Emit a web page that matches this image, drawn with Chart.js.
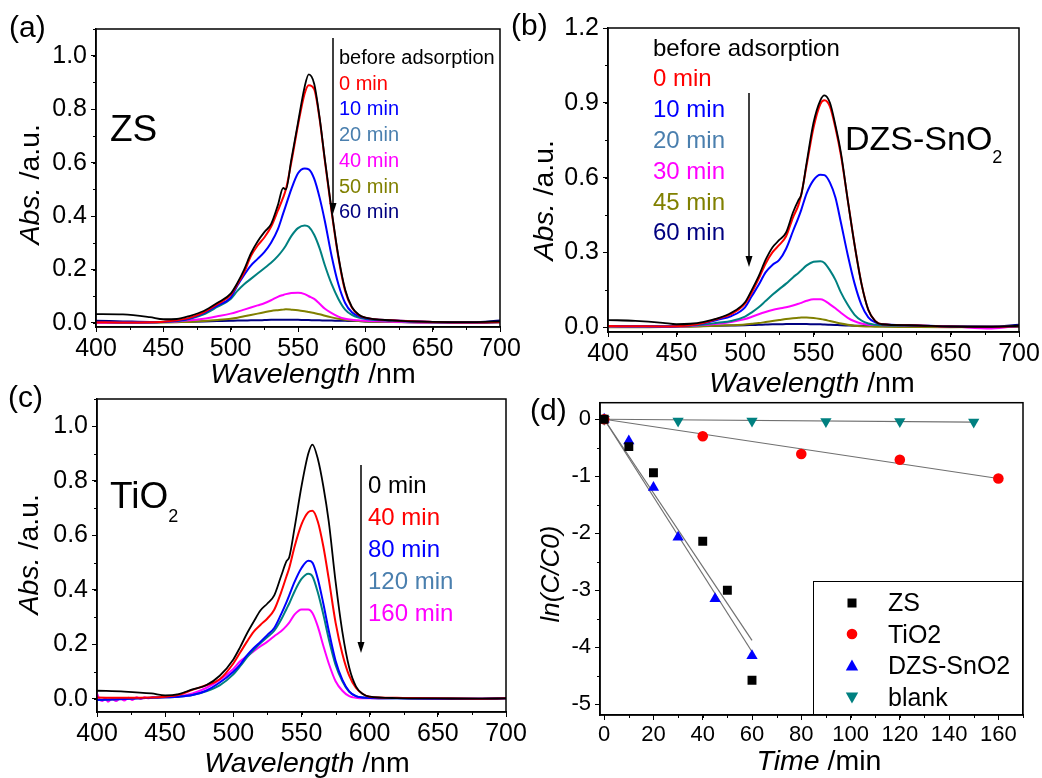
<!DOCTYPE html>
<html>
<head>
<meta charset="utf-8">
<script src="https://cdn.jsdelivr.net/npm/chart.js@4.4.0/dist/chart.umd.min.js"></script>
<style>
  body { margin: 0; background: #fff; }
  #fig { position: relative; width: 1042px; height: 778px; overflow: hidden;
         font-family: "Liberation Sans", Arial, sans-serif; color: #000; background: #fff; }
  #fig canvas { position: absolute; }
  .t { position: absolute; white-space: nowrap; }
  .panel { font-size: 30px; line-height: 30px; }
  .xt { width: 300px; text-align: center; font-size: 28.5px; line-height: 28.5px; }
  .yt { width: 200px; text-align: center; font-size: 28.5px; line-height: 28.5px; transform: rotate(-90deg); }
  .sub { font-size: 18px; }
  #legD { position: absolute; left: 813px; top: 581px; width: 210px; height: 134px;
          box-sizing: border-box; border: 1px solid #000; background: #fff; }
  #legD .row { position: absolute; left: 0; width: 210px; height: 31.5px; font-size: 25px; line-height: 31.5px; }
  #legD .row span { position: absolute; left: 74px; }
  #legD .row svg { position: absolute; left: 31px; top: 8.75px; }
</style>
</head>
<body>
<div id="fig">
  <canvas id="chartA" width="560" height="400" style="left:0px;top:0px"></canvas>
  <canvas id="chartB" width="522" height="400" style="left:520px;top:0px"></canvas>
  <canvas id="chartC" width="560" height="398" style="left:0px;top:380px"></canvas>
  <canvas id="chartD" width="522" height="398" style="left:520px;top:380px"></canvas>

  <div class="t panel" style="left:9px;top:12px">(a)</div>
  <div class="t panel" style="left:511px;top:10px">(b)</div>
  <div class="t panel" style="left:8px;top:382px">(c)</div>
  <div class="t panel" style="left:530px;top:395px">(d)</div>

  <div class="t xt" style="left:163px;top:359px"><i>Wavelength</i> /nm</div>
  <div class="t xt" style="left:662px;top:368px"><i>Wavelength</i> /nm</div>
  <div class="t xt" style="left:157px;top:748px"><i>Wavelength</i> /nm</div>
  <div class="t xt" style="left:669px;top:746px"><i>Time</i> /min</div>

  <div class="t yt" style="left:-71px;top:170px"><i>Abs.</i> /a.u.</div>
  <div class="t yt" style="left:443px;top:186px"><i>Abs.</i> /a.u.</div>
  <div class="t yt" style="left:-72px;top:540px"><i>Abs.</i> /a.u.</div>
  <div class="t yt" style="left:450px;top:561px;font-size:26px;line-height:26px"><i>ln(C/C0)</i></div>

  <div class="t" style="left:110px;top:110px;font-size:37px;line-height:37px">ZS</div>
  <div class="t" style="left:845px;top:121px;font-size:34px;line-height:34px">DZS-SnO<span class="sub" style="vertical-align:-13px">2</span></div>
  <div class="t" style="left:110px;top:477px;font-size:37px;line-height:37px">TiO<span class="sub" style="vertical-align:-14px">2</span></div>

  <div class="t" style="left:339px;top:45px;font-size:20px;line-height:25.7px">
    <div>before adsorption</div>
    <div style="color:#ff0000">0 min</div>
    <div style="color:#0000ff">10 min</div>
    <div style="color:#4a7fae">20 min</div>
    <div style="color:#ff00ff">40 min</div>
    <div style="color:#808000">50 min</div>
    <div style="color:#000080">60 min</div>
  </div>
  <div class="t" style="left:653px;top:32.6px;font-size:24px;line-height:30.8px">
    <div>before adsorption</div>
    <div style="color:#ff0000">0 min</div>
    <div style="color:#0000ff">10 min</div>
    <div style="color:#4a7fae">20 min</div>
    <div style="color:#ff00ff">30 min</div>
    <div style="color:#808000">45 min</div>
    <div style="color:#000080">60 min</div>
  </div>
  <div class="t" style="left:368px;top:469px;font-size:24px;line-height:32px">
    <div>0 min</div>
    <div style="color:#ff0000">40 min</div>
    <div style="color:#0000ff">80 min</div>
    <div style="color:#4a7fae">120 min</div>
    <div style="color:#ff00ff">160 min</div>
  </div>

  <svg class="t" style="left:0;top:0;pointer-events:none" width="1042" height="778">
    <line x1="333" y1="38" x2="333" y2="205" stroke="#000" stroke-width="1.5"/>
    <polygon points="329.5,203 336.5,203 333,214" fill="#000"/>
    <line x1="749" y1="93" x2="749" y2="258" stroke="#000" stroke-width="1.5"/>
    <polygon points="745.5,256 752.5,256 749,267" fill="#000"/>
    <line x1="361" y1="465" x2="361" y2="644" stroke="#000" stroke-width="1.5"/>
    <polygon points="357.5,642 364.5,642 361,653" fill="#000"/>
  </svg>

  <div id="legD">
    <div class="row" style="top:5px"><svg width="14" height="14"><rect x="2.5" y="2.5" width="9" height="9" fill="#000"/></svg><span>ZS</span></div>
    <div class="row" style="top:36.5px"><svg width="14" height="14"><circle cx="7" cy="7" r="5.3" fill="#ff0000"/></svg><span>TiO2</span></div>
    <div class="row" style="top:68px"><svg width="14" height="14"><polygon points="7,0.5 13.2,11.5 0.8,11.5" fill="#0000ff"/></svg><span>DZS-SnO2</span></div>
    <div class="row" style="top:99.5px"><svg width="14" height="14"><polygon points="0.8,2.5 13.2,2.5 7,13.5" fill="#008080"/></svg><span>blank</span></div>
  </div>
</div>

<script>
// wavelength grid (nm) shared by the spectra
const wavelength = [400, 420, 440, 450, 460, 470, 480, 490, 500, 505, 510, 515, 520, 525, 530, 535, 539, 541,
  545, 550, 555, 558, 562, 566, 570, 575, 580, 585, 590, 595, 600, 620, 650, 680, 700];

// (a) ZS
const aBefore = [0.033, 0.032, 0.022, 0.014, 0.015, 0.027, 0.045, 0.075, 0.11, 0.15, 0.2, 0.26, 0.305, 0.34, 0.37, 0.44, 0.505, 0.5,
  0.61, 0.75, 0.885, 0.93, 0.895, 0.77, 0.61, 0.42, 0.25, 0.125, 0.06, 0.032, 0.02, 0.01, 0.004, 0.003, 0.006];
const a0 = [0.003, 0.002, 0.003, 0.005, 0.01, 0.02, 0.04, 0.07, 0.105, 0.145, 0.19, 0.25, 0.29, 0.32, 0.36, 0.42, 0.47, 0.5,
  0.6, 0.74, 0.86, 0.89, 0.875, 0.765, 0.605, 0.415, 0.245, 0.12, 0.058, 0.03, 0.02, 0.01, 0.004, 0.002, 0.004];
const a10 = [0.004, 0.003, 0.003, 0.004, 0.008, 0.018, 0.037, 0.065, 0.095, 0.14, 0.18, 0.215, 0.24, 0.265, 0.3, 0.35, 0.41, 0.44,
  0.5, 0.56, 0.578, 0.575, 0.54, 0.47, 0.38, 0.25, 0.145, 0.075, 0.04, 0.026, 0.018, 0.01, 0.004, 0.002, 0.004];
const a20 = [0.004, 0.003, 0.003, 0.004, 0.007, 0.016, 0.032, 0.06, 0.09, 0.12, 0.145, 0.165, 0.185, 0.205, 0.225, 0.25, 0.275, 0.29,
  0.325, 0.355, 0.365, 0.36, 0.33, 0.28, 0.215, 0.145, 0.09, 0.05, 0.03, 0.02, 0.015, 0.008, 0.003, 0.002, 0.004];
const a40 = [0.001, 0.001, 0.002, 0.004, 0.006, 0.01, 0.016, 0.025, 0.035, 0.042, 0.05, 0.058, 0.066, 0.074, 0.085, 0.098, 0.105, 0.108,
  0.112, 0.113, 0.108, 0.1, 0.09, 0.072, 0.053, 0.037, 0.024, 0.016, 0.012, 0.01, 0.008, 0.005, 0.002, 0.002, 0.003];
const a50 = [0, 0, 0.001, 0.002, 0.003, 0.004, 0.007, 0.011, 0.016, 0.02, 0.025, 0.03, 0.035, 0.04, 0.045, 0.048, 0.05, 0.051,
  0.05, 0.048, 0.044, 0.041, 0.037, 0.033, 0.027, 0.021, 0.016, 0.012, 0.009, 0.007, 0.006, 0.004, 0.002, 0.001, 0.002];
const a60 = [0.008, 0.006, 0.004, 0.004, 0.004, 0.005, 0.006, 0.007, 0.008, 0.009, 0.009, 0.01, 0.01, 0.011, 0.012, 0.012, 0.012, 0.012,
  0.012, 0.012, 0.011, 0.011, 0.01, 0.01, 0.009, 0.009, 0.008, 0.008, 0.007, 0.007, 0.006, 0.004, 0.002, 0.002, 0.009];

// (b) DZS-SnO2
const bBefore = [0.029, 0.026, 0.018, 0.012, 0.014, 0.022, 0.036, 0.058, 0.1, 0.15, 0.205, 0.27, 0.32, 0.35, 0.38, 0.46, 0.51, 0.53,
  0.66, 0.82, 0.91, 0.93, 0.9, 0.81, 0.7, 0.51, 0.33, 0.175, 0.07, 0.025, 0.012, 0.008, 0.003, 0.002, 0.006];
const b0 = [0.005, 0.004, 0.003, 0.004, 0.008, 0.018, 0.034, 0.053, 0.095, 0.14, 0.195, 0.255, 0.3, 0.33, 0.365, 0.44, 0.49, 0.53,
  0.65, 0.8, 0.895, 0.91, 0.885, 0.8, 0.69, 0.51, 0.33, 0.175, 0.07, 0.025, 0.012, 0.008, 0.003, 0.002, 0.004];
const b10 = [0.005, 0.004, 0.003, 0.004, 0.008, 0.016, 0.03, 0.045, 0.08, 0.125, 0.17, 0.22, 0.25, 0.27, 0.315, 0.385, 0.44, 0.47,
  0.537, 0.59, 0.612, 0.61, 0.58, 0.52, 0.42, 0.29, 0.175, 0.09, 0.04, 0.02, 0.012, 0.008, 0.003, 0.002, 0.004];
const b20 = [0.004, 0.003, 0.003, 0.004, 0.006, 0.011, 0.018, 0.025, 0.043, 0.06, 0.08, 0.105, 0.13, 0.153, 0.175, 0.2, 0.218, 0.228,
  0.248, 0.263, 0.265, 0.258, 0.228, 0.19, 0.14, 0.09, 0.05, 0.027, 0.015, 0.01, 0.008, 0.006, 0.003, 0.002, 0.004];
const b30 = [0.003, 0.002, 0.002, 0.003, 0.005, 0.009, 0.014, 0.021, 0.033, 0.042, 0.052, 0.061, 0.069, 0.075, 0.08, 0.087, 0.094, 0.098,
  0.106, 0.112, 0.112, 0.107, 0.092, 0.076, 0.058, 0.038, 0.024, 0.015, 0.01, 0.009, 0.008, 0.007, 0.003, -0.005, 0.006];
const b45 = [0, 0, 0.001, 0.001, 0.002, 0.004, 0.006, 0.008, 0.011, 0.014, 0.017, 0.021, 0.025, 0.029, 0.033, 0.036, 0.038, 0.039,
  0.039, 0.037, 0.033, 0.03, 0.025, 0.02, 0.015, 0.01, 0.006, 0.004, 0.003, 0.002, 0.002, 0.001, 0, 0.001, 0.002];
const b60 = [0.004, 0.003, 0.003, 0.003, 0.004, 0.005, 0.006, 0.007, 0.008, 0.009, 0.01, 0.011, 0.012, 0.012, 0.013, 0.013, 0.013, 0.013,
  0.013, 0.012, 0.012, 0.011, 0.01, 0.009, 0.008, 0.007, 0.006, 0.006, 0.005, 0.005, 0.005, 0.004, 0.003, 0.002, 0.01];

// (c) TiO2
const c0 = [0.03, 0.027, 0.02, 0.013, 0.018, 0.035, 0.05, 0.085, 0.145, 0.19, 0.24, 0.284, 0.325, 0.35, 0.38, 0.45, 0.505, 0.52,
  0.63, 0.78, 0.9, 0.933, 0.88, 0.78, 0.65, 0.43, 0.245, 0.115, 0.045, 0.018, 0.008, 0.003, 0.002, 0.001, 0.002];
const c40 = [0.005, 0.004, 0.005, 0.008, 0.015, 0.033, 0.05, 0.072, 0.13, 0.17, 0.21, 0.247, 0.272, 0.295, 0.327, 0.39, 0.45, 0.48,
  0.56, 0.64, 0.685, 0.69, 0.65, 0.56, 0.44, 0.28, 0.165, 0.085, 0.04, 0.018, 0.008, 0.004, 0.002, 0.001, 0.002];
const c80 = [-0.004, 0, 0.004, 0.006, 0.008, 0.014, 0.03, 0.06, 0.1, 0.126, 0.16, 0.187, 0.21, 0.235, 0.26, 0.31, 0.355, 0.38,
  0.43, 0.48, 0.507, 0.5, 0.44, 0.35, 0.25, 0.14, 0.07, 0.028, 0.01, 0.005, 0.003, 0.002, 0.001, 0.001, 0.002];
const c120 = [-0.004, 0, 0.004, 0.006, 0.008, 0.014, 0.028, 0.05, 0.09, 0.12, 0.152, 0.18, 0.205, 0.227, 0.25, 0.29, 0.33, 0.35,
  0.395, 0.44, 0.459, 0.45, 0.39, 0.31, 0.22, 0.125, 0.065, 0.026, 0.01, 0.005, 0.003, 0.002, 0.001, 0.001, 0.002];
// the 160 min trace is noisy below 450 nm, so it has its own finer grid there
const wlC160 = [400, 402, 404, 406, 408, 411, 414, 417, 420, 423, 426, 429, 432, 435, 438, 441, 444, 447,
  450, 460, 470, 480, 490, 500, 505, 510, 515, 520, 525, 530, 535, 539, 541,
  545, 550, 555, 558, 562, 566, 570, 575, 580, 585, 590, 595, 600, 620, 650, 680, 700];
const c160 = [0.02, -0.002, -0.008, 0.003, -0.01, 0, -0.008, 0.002, -0.006, 0.004, -0.004, 0.006, 0, 0.006, 0.002, 0.007, 0.004, 0.006,
  0.006, 0.01, 0.02, 0.04, 0.07, 0.11, 0.138, 0.157, 0.175, 0.193, 0.21, 0.23, 0.248, 0.268, 0.28,
  0.31, 0.328, 0.328, 0.315, 0.265, 0.195, 0.13, 0.065, 0.03, 0.01, 0.004, 0.002, 0.002, 0.003, 0.001, 0.001, 0.002];

// (d) kinetics, ln(C/C0) vs time
const dTimeZS = [0, 10, 20, 40, 50, 60];
const dZS = [0, -0.48, -0.94, -2.14, -3.0, -4.58];
const dTimeTiO2 = [0, 40, 80, 120, 160];
const dTiO2 = [0, -0.3, -0.61, -0.71, -1.04];
const dTimeDZS = [0, 10, 20, 30, 45, 60];
const dDZS = [0, -0.38, -1.2, -2.07, -3.15, -4.15];
const dTimeBlank = [0, 30, 60, 90, 120, 150];
const dBlank = [0, -0.03, -0.03, -0.04, -0.04, -0.05];
// linear fits (end points)
const fitTimeFast = [0, 60];
const fitZS = [0, -3.88];
const fitDZS = [0, -4.08];
const fitTimeTiO2 = [0, 160];
const fitTiO2 = [0, -1.04];
const fitTimeBlank = [0, 150];
const fitBlank = [0, -0.05];

// tick labels
const wlTicks = [400, 450, 500, 550, 600, 650, 700];
const absTicksA = [0, 0.2, 0.4, 0.6, 0.8, 1.0];
const absTicksB = [0, 0.3, 0.6, 0.9, 1.2];
const timeTicks = [0, 20, 40, 60, 80, 100, 120, 140, 160];
const lnTicks = [0, -1, -2, -3, -4, -5];

const FONT = "'Liberation Sans', Arial, sans-serif";

const pts = (xs, ys) => xs.map((x, i) => ({ x: x, y: ys[i] }));

// box around the plot + small minor ticks
const framePlugin = {
  id: 'frame',
  afterDraw(chart, args, opts) {
    const { ctx, chartArea: a } = chart;
    const xs = chart.scales.x, ys = chart.scales.y;
    ctx.save();
    ctx.strokeStyle = '#000';
    ctx.lineWidth = 1;
    ctx.beginPath();
    for (let i = Math.ceil(xs.min / opts.minorX); i * opts.minorX <= xs.max + 1e-9; i++) {
      const px = Math.round(xs.getPixelForValue(i * opts.minorX)) + 0.5;
      ctx.moveTo(px, a.bottom); ctx.lineTo(px, a.bottom + 3);
    }
    for (let i = Math.ceil(ys.min / opts.minorY); i * opts.minorY <= ys.max + 1e-9; i++) {
      const py = Math.round(ys.getPixelForValue(i * opts.minorY)) + 0.5;
      ctx.moveTo(a.left, py); ctx.lineTo(a.left - 3, py);
    }
    ctx.stroke();
    ctx.lineWidth = 1.5;
    ctx.strokeRect(a.left, a.top, a.right - a.left, a.bottom - a.top);
    ctx.restore();
  }
};

function axis(o, isX) {
  const ticks = isX ? o.xTicks : o.yTicks;
  return {
    type: 'linear',
    min: isX ? o.xMin : o.yMin,
    max: isX ? o.xMax : o.yMax,
    afterBuildTicks: s => { s.ticks = ticks.map(v => ({ value: v })); },
    afterFit: s => { if (isX) s.height = 40; else s.width = o.yW; },
    grid: { drawOnChartArea: false, tickLength: 5, color: '#000', lineWidth: 1 },
    border: { color: '#000', width: 1.5 },
    ticks: {
      color: '#000', padding: isX ? 2 : 4, maxRotation: 0, autoSkip: false,
      font: { family: FONT, size: o.fs },
      callback: isX ? (v => v) : o.yFmt
    }
  };
}

function makeChart(id, type, datasets, o) {
  return new Chart(document.getElementById(id), {
    type: type,
    data: { datasets: datasets },
    options: {
      responsive: false, animation: false, devicePixelRatio: 1,
      layout: { padding: o.pad },
      plugins: { legend: { display: false }, tooltip: { enabled: false },
        frame: { minorX: o.minorX, minorY: o.minorY } },
      scales: { x: axis(o, true), y: axis(o, false) }
    },
    plugins: [framePlugin]
  });
}

function spec(xs, ys, color, w) {
  return { data: pts(xs, ys), borderColor: color, borderWidth: w || 2, pointRadius: 0,
    fill: false, cubicInterpolationMode: 'monotone' };
}

const fmt1 = v => v.toFixed(1);

makeChart('chartA', 'line', [
  spec(wavelength, aBefore, '#000000', 1.8),
  spec(wavelength, a0, '#ff0000'),
  spec(wavelength, a10, '#0000ff'),
  spec(wavelength, a20, '#008080'),
  spec(wavelength, a40, '#ff00ff'),
  spec(wavelength, a50, '#808000'),
  spec(wavelength, a60, '#000080')
], { xMin: 400, xMax: 700, yMin: -0.015, yMax: 1.1, xTicks: wlTicks, yTicks: absTicksA, yFmt: fmt1,
     yW: 96, fs: 25, minorX: 25, minorY: 0.1, pad: { left: 0, top: 29, right: 60, bottom: 33 } });

makeChart('chartB', 'line', [
  spec(wavelength, bBefore, '#000000', 1.8),
  spec(wavelength, b0, '#ff0000'),
  spec(wavelength, b10, '#0000ff'),
  spec(wavelength, b20, '#008080'),
  spec(wavelength, b30, '#ff00ff'),
  spec(wavelength, b45, '#808000'),
  spec(wavelength, b60, '#000080')
], { xMin: 400, xMax: 700, yMin: -0.019, yMax: 1.2, xTicks: wlTicks, yTicks: absTicksB, yFmt: fmt1,
     yW: 88, fs: 25, minorX: 25, minorY: 0.15, pad: { left: 0, top: 28, right: 23, bottom: 28 } });

makeChart('chartC', 'line', [
  spec(wavelength, c0, '#000000', 1.8),
  spec(wavelength, c40, '#ff0000'),
  spec(wavelength, c80, '#0000ff'),
  spec(wavelength, c120, '#008080'),
  spec(wlC160, c160, '#ff00ff')
], { xMin: 400, xMax: 700, yMin: -0.048, yMax: 1.1, xTicks: wlTicks, yTicks: absTicksA, yFmt: fmt1,
     yW: 97, fs: 25, minorX: 25, minorY: 0.1, pad: { left: 0, top: 13, right: 54, bottom: 26 } });

function marks(xs, ys, color, style, r, rot) {
  return { data: pts(xs, ys), showLine: false, pointStyle: style, pointRadius: r, pointRotation: rot || 0,
    backgroundColor: color, borderColor: color, borderWidth: 0 };
}
function fitLine(xs, ys) {
  return { data: pts(xs, ys), showLine: true, pointRadius: 0, borderColor: '#707070', borderWidth: 1.2 };
}

makeChart('chartD', 'scatter', [
  marks(dTimeZS, dZS, '#000000', 'rect', 6.3),
  marks(dTimeTiO2, dTiO2, '#ff0000', 'circle', 5.3),
  marks(dTimeDZS, dDZS, '#0000ff', 'triangle', 6.5),
  marks(dTimeBlank, dBlank, '#008080', 'triangle', 6.5, 180),
  fitLine(fitTimeFast, fitZS),
  fitLine(fitTimeFast, fitDZS),
  fitLine(fitTimeTiO2, fitTiO2),
  fitLine(fitTimeBlank, fitBlank)
], { xMin: -1.7, xMax: 170, yMin: -5.19, yMax: 0.29, xTicks: timeTicks, yTicks: lnTicks, yFmt: v => v,
     yW: 80, fs: 22, minorX: 10, minorY: 0.5, pad: { left: 0, top: 22.7, right: 19, bottom: 23 } });
</script>
</body>
</html>
